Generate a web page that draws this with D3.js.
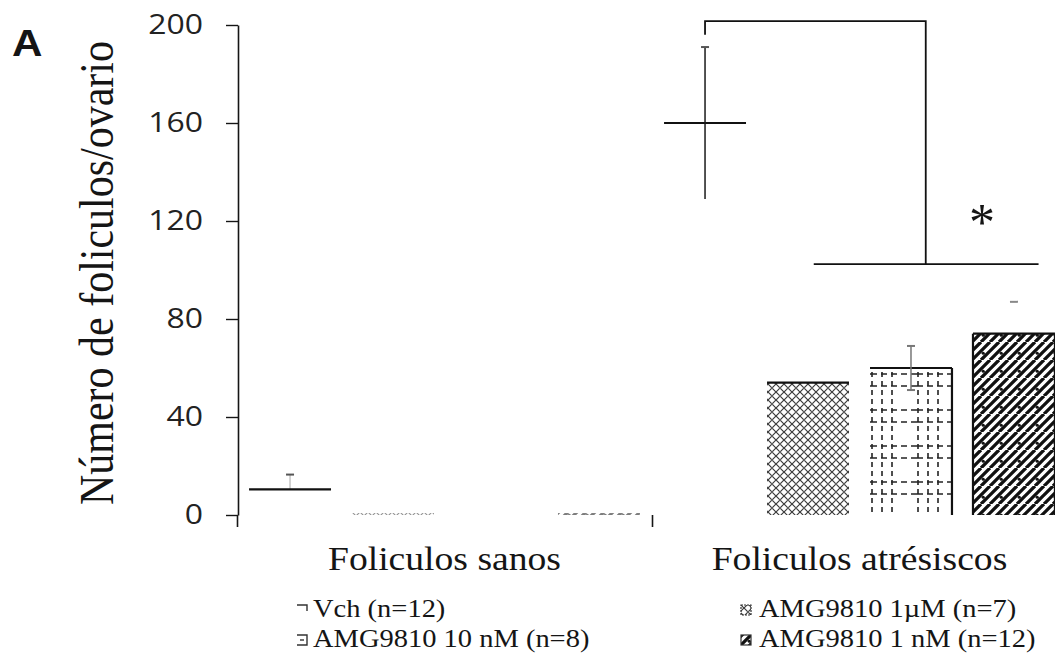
<!DOCTYPE html>
<html>
<head>
<meta charset="utf-8">
<script src="https://cdn.jsdelivr.net/npm/d3@7"></script>
<style>
  body { margin: 0; background: #fff; }
  svg { display: block; }
</style>
</head>
<body>
<svg id="chart" width="1055" height="661"></svg>
<script>
// Follicle counts per ovary, by treatment
const groups = ["Foliculos sanos", "Foliculos atrésiscos"];
const seriesNames = ["Vch", "AMG9810 1µM", "AMG9810 10 nM", "AMG9810 1 nM"];
const legendLabels = ["Vch (n=12)", "AMG9810 1µM  (n=7)", "AMG9810 10 nM (n=8)", "AMG9810 1 nM (n=12)"];
const legendOrder = ["Vch", "AMG9810 10 nM", "AMG9810 1µM", "AMG9810 1 nM"];

const vch     = [10.5, 160];
const amg1uM  = [0.8, 54];
const amg10nM = [0, 60];
const amg1nM  = [0.8, 74];

// upper / lower error extents
const errUpVch     = [6, 31];
const errDownVch   = [0, 31];
const errUp10nM    = [0, 9];
const errDown10nM  = [0, 9];
const errUp1nM     = [0, 13];
const errDown1nM   = [0, 0];

const yTicks = [0, 40, 80, 120, 160, 200];
const yLabel = "Número de foliculos/ovario";
const panelLabel = "A";

// significance bracket levels (in count units)
const bracketTop = 201.6;
const bracketLegEnd = 196;
const bracketBottom = 102.4;
const sigMark = "*";

const values = { "Vch": vch, "AMG9810 1µM": amg1uM, "AMG9810 10 nM": amg10nM, "AMG9810 1 nM": amg1nM };
const errUp = { "Vch": errUpVch, "AMG9810 10 nM": errUp10nM, "AMG9810 1 nM": errUp1nM };
const errDown = { "Vch": errDownVch, "AMG9810 10 nM": errDown10nM, "AMG9810 1 nM": errDown1nM };

const svg = d3.select("#chart");
const serif = "'Liberation Serif', 'Times New Roman', serif";
const sans = "'Open Sans', 'Liberation Sans', sans-serif";
const ink = "#151515";
const stretch = 1.14;

const y = d3.scaleLinear().domain([0, 200]).range([515, 25]);
const xGroup = d3.scaleBand().domain(groups).range([237, 1067]);
const xSeries = d3.scaleBand().domain(seriesNames).range([0, xGroup.bandwidth()])
  .paddingInner(0.204).paddingOuter(0.117);
const bw = xSeries.bandwidth();
const barX = (g, s) => xGroup(g) + xSeries(s);

// ---- fill patterns ----
const defs = svg.append("defs");

const pX = defs.append("pattern").attr("id", "pCross").attr("patternUnits", "userSpaceOnUse")
  .attr("width", 8).attr("height", 8);
pX.append("rect").attr("width", 8).attr("height", 8).attr("fill", "#fff");
pX.append("path").attr("d", "M0,0L8,8M8,0L0,8").attr("stroke", "#3a3a3a").attr("stroke-width", 1.2);
pX.append("path").attr("d", "M3,4h2").attr("stroke", "#777").attr("stroke-width", 1);

const gridX0 = barX(groups[1], "AMG9810 10 nM");
const pG = defs.append("pattern").attr("id", "pGrid").attr("patternUnits", "userSpaceOnUse")
  .attr("x", gridX0 + 1).attr("y", y(60) + 4).attr("width", 46).attr("height", 36);
pG.append("rect").attr("width", 46).attr("height", 36).attr("fill", "#fff");
[1, 11, 21].forEach(v => pG.append("line").attr("x1", v).attr("x2", v).attr("y1", 0).attr("y2", 36)
  .attr("stroke", "#222").attr("stroke-width", 1.6).attr("stroke-dasharray", "5,4"));
[2, 14].forEach(v => pG.append("line").attr("x1", 0).attr("x2", 46).attr("y1", v).attr("y2", v)
  .attr("stroke", "#222").attr("stroke-width", 1.6).attr("stroke-dasharray", "6,4"));

const pD = defs.append("pattern").attr("id", "pDiag").attr("patternUnits", "userSpaceOnUse")
  .attr("width", 18).attr("height", 18);
pD.append("rect").attr("width", 18).attr("height", 18).attr("fill", "#fff");
pD.append("path").attr("d", [-18, -9, 0, 9, 18].map(k => `M${k},18L${k + 18},0`).join(""))
  .attr("stroke", "#111").attr("stroke-width", 3.3);
pD.append("circle").attr("cx", 11.25).attr("cy", 11.25).attr("r", 1.6).attr("fill", "#111");

const fills = { "Vch": "#fff", "AMG9810 1µM": "url(#pCross)", "AMG9810 10 nM": "url(#pGrid)", "AMG9810 1 nM": "url(#pDiag)" };
// which bar edges carry an outline
const edges = { "Vch": ["top"], "AMG9810 1µM": ["top"], "AMG9810 10 nM": ["top", "right"], "AMG9810 1 nM": ["top", "left", "right"] };

// ---- y axis ----
const yAxis = svg.append("g").attr("transform", "translate(238,0)")
  .call(d3.axisLeft(y).tickValues(yTicks).tickSize(12).tickSizeOuter(0).tickPadding(23));
yAxis.select(".domain").attr("stroke", ink).attr("stroke-width", 1.6);
yAxis.selectAll(".tick line").attr("stroke", ink).attr("stroke-width", 1.4);
yAxis.selectAll(".tick text")
  .attr("font-family", sans).attr("font-size", 28).attr("fill", "#222")
  .attr("transform", function () {
    const tx = +d3.select(this).attr("x");
    return `translate(${tx},0) scale(${stretch},1) translate(${-tx},0)`;
  });

// ---- x axis: category boundary ticks only ----
const xb = d3.scaleLinear().domain([0, groups.length]).range(xGroup.range());
const xAxis = svg.append("g").attr("transform", `translate(0,${y(0)})`)
  .call(d3.axisBottom(xb).tickValues(d3.range(groups.length + 1)).tickSize(12).tickFormat(""));
xAxis.select(".domain").remove();
xAxis.selectAll(".tick line").attr("stroke", ink).attr("stroke-width", 1.6);

// ---- bars ----
const barData = [];
groups.forEach((g, gi) => seriesNames.forEach(s => barData.push({ g, gi, s, v: values[s][gi] })));

const bars = svg.append("g");
barData.forEach(d => {
  const x0 = barX(d.g, d.s), x1 = x0 + bw, yt = y(d.v), yb = y(0);
  const tiny = yb - yt <= 3;
  if (d.s !== "Vch") {
    bars.append("rect").attr("x", x0).attr("y", yt).attr("width", bw).attr("height", Math.max(0, yb - yt))
      .attr("fill", fills[d.s]).attr("opacity", tiny ? 0.55 : 1);
  }
  if (!tiny || d.s === "Vch") {
    const segs = { top: [x0, yt, x1, yt], left: [x0, yt, x0, yb], right: [x1, yt, x1, yb] };
    edges[d.s].forEach(e => {
      const c = segs[e];
      bars.append("line").attr("x1", c[0]).attr("y1", c[1]).attr("x2", c[2]).attr("y2", c[3])
        .attr("stroke", "#111").attr("stroke-width", 2.2);
    });
  }
});

// ---- error bars ----
const errStroke = { "Vch": "#1a1a1a", "AMG9810 10 nM": "#777", "AMG9810 1 nM": "none" };
const capStroke = { "Vch": "#555", "AMG9810 10 nM": "#777", "AMG9810 1 nM": "#888" };
const errs = svg.append("g");
barData.forEach(d => {
  if (!errUp[d.s]) return;
  const up = errUp[d.s][d.gi], dn = errDown[d.s][d.gi];
  if (!up && !dn) return;
  const cx = barX(d.g, d.s) + bw / 2;
  errs.append("line").attr("x1", cx).attr("x2", cx).attr("y1", y(d.v + up)).attr("y2", y(d.v - dn))
    .attr("stroke", errStroke[d.s]).attr("stroke-width", 1.5)
    .attr("opacity", dn === 0 && d.s === "Vch" ? 0.25 : 1);
  errs.append("line").attr("x1", cx - 4).attr("x2", cx + 4).attr("y1", y(d.v + up)).attr("y2", y(d.v + up))
    .attr("stroke", capStroke[d.s]).attr("stroke-width", 2);
  if (d.s === "AMG9810 10 nM") {
    errs.append("line").attr("x1", cx - 4).attr("x2", cx + 4).attr("y1", y(d.v - dn)).attr("y2", y(d.v - dn))
      .attr("stroke", capStroke[d.s]).attr("stroke-width", 2);
  }
});

// ---- significance bracket ----
const bLeft = barX(groups[1], "Vch") + bw / 2;
const bRight = barX(groups[1], "AMG9810 10 nM") + bw * 0.68;
const bFrom = barX(groups[1], "AMG9810 1µM") + bw * 0.57;
const bTo = barX(groups[1], "AMG9810 1 nM") + bw * 0.8;
svg.append("path")
  .attr("d", `M${bLeft},${y(bracketLegEnd)}V${y(bracketTop)}H${bRight}V${y(bracketBottom)}`)
  .attr("fill", "none").attr("stroke", "#111").attr("stroke-width", 1.8);
svg.append("line").attr("x1", bFrom).attr("x2", bTo).attr("y1", y(bracketBottom)).attr("y2", y(bracketBottom))
  .attr("stroke", "#111").attr("stroke-width", 1.8);
svg.append("text").attr("x", 982).attr("y", 240).attr("text-anchor", "middle")
  .attr("font-family", serif).attr("font-size", 52).attr("fill", ink).text(sigMark);

// ---- text ----
function stretchedText(x, yPos, str, size, family, anchor, weight) {
  return svg.append("text")
    .attr("transform", `translate(${x},${yPos}) scale(${stretch},1)`)
    .attr("text-anchor", anchor).attr("font-family", family).attr("font-size", size)
    .attr("font-weight", weight || "normal").attr("fill", ink).text(str);
}

groups.forEach(g => stretchedText(xGroup(g) + xGroup.bandwidth() / 2, 570, g, 33, serif, "middle"));

svg.append("text")
  .attr("transform", `translate(113,273) rotate(-90) scale(1,${stretch})`)
  .attr("text-anchor", "middle").attr("font-family", serif).attr("font-size", 42).attr("fill", ink)
  .text(yLabel);

stretchedText(12, 56, panelLabel, 37, "'Liberation Sans', Arial, sans-serif", "start", "bold");

// ---- legend ----
const legendPos = [
  { sx: 297, tx: 313, y: 617 }, { sx: 297, tx: 313, y: 647 },
  { sx: 741, tx: 759, y: 617 }, { sx: 741, tx: 759, y: 647 }
];
const leg = svg.append("g");
legendOrder.forEach((s, i) => {
  const p = legendPos[i];
  const label = legendLabels[seriesNames.indexOf(s)];
  const sx = p.sx, sy = p.y - 12, sz = 10;
  if (s === "Vch") {
    leg.append("path").attr("d", `M${sx},${sy}H${sx + sz}V${sy + 6}`)
      .attr("fill", "none").attr("stroke", "#333").attr("stroke-width", 1.4);
  } else if (s === "AMG9810 10 nM") {
    leg.append("path").attr("d", `M${sx},${sy}H${sx + sz}V${sy + sz}H${sx}`)
      .attr("fill", "none").attr("stroke", "#333").attr("stroke-width", 1.4);
    leg.append("path").attr("d", `M${sx + 3},${sy + 5}h4`).attr("stroke", "#333").attr("stroke-width", 1.4);
  } else {
    leg.append("rect").attr("x", sx).attr("y", sy).attr("width", sz).attr("height", sz)
      .attr("fill", fills[s]).attr("stroke", "#333").attr("stroke-width", 1.2)
      .attr("stroke-dasharray", s === "AMG9810 1µM" ? "2,1" : null);
  }
  stretchedText(p.tx, p.y, label, 25, serif, "start");
});
</script>
</body>
</html>
